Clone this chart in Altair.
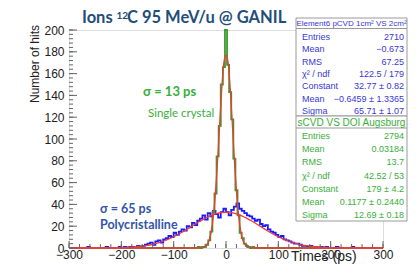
import altair as alt
import pandas as pd
import numpy as np

# ---------------- data ----------------
# polycrystalline (blue) histogram, 5 ps bins from -300 to 300
blue_counts = [0, 0, 0, 0, 0, 0, 0, 1, 0, 0, 0, 0, 0, 0, 1, 0, 0, 0, 0, 1,
               0, 1, 0, 1, 1, 0, 2, 1, 2, 3,
               4, 5, 3, 6, 7, 5, 8, 9, 11, 10,
               14, 12, 15, 17, 16, 20, 19, 23, 21, 25,
               27, 30, 26, 32, 29, 34, 31, 28, 33, 36,
               33, 30, 35, 38, 41, 36, 34, 32, 30, 29,
               27, 25, 26, 22, 20, 21, 17, 15, 14, 12,
               10, 11, 8, 7, 6, 5, 4, 4, 3, 2,
               2, 1, 2, 1, 1, 0, 1, 0, 1, 0,
               0, 0, 1, 0, 0, 0, 0, 0, 1, 0, 0, 0, 0, 0, 0, 0, 0, 0, 0, 0]
# single crystal (green) histogram, 4 ps bins centred -60 .. 60
green_counts = [0, 0, 1, 0, 1, 1, 3, 7, 15, 33, 50, 84, 112, 150, 166, 200,
                168, 143, 118, 82, 53, 30, 14, 9, 4, 2, 1, 0, 1, 0, 0]
# gaussian fit curves (red)
blue_fit = [0, 0, 0, 0, 0.01, 0.02, 0.04, 0.07, 0.12, 0.2, 0.32, 0.5, 0.77, 1.15,
            1.7, 2.4, 3.4, 4.6, 6.2, 8.1, 10.3, 12.8, 15.6, 18.6, 21.6, 24.5,
            27.2, 29.5, 31.3, 32.4, 32.8,
            32.4, 31.3, 29.5, 27.2, 24.5, 21.6, 18.6, 15.6, 12.8, 10.3, 8.1,
            6.2, 4.6, 3.4, 2.4, 1.7, 1.15, 0.77, 0.5, 0.32, 0.2, 0.12, 0.07,
            0.04, 0.02, 0.01, 0, 0, 0, 0]
green_fit = [0, 0.01, 0.04, 0.14, 0.4, 1.2, 3.2, 7.4, 15.7, 30.0, 51.7, 80.8,
             114.5, 146.8, 170.3, 177,
             170.3, 146.8, 114.5, 80.8, 51.7, 30.0, 15.7, 7.4, 3.2, 1.2, 0.4,
             0.14, 0.04, 0.01, 0]

x_labels = [-300, -200, -100, 0, 100, 200, 300]
y_labels = [0, 20, 40, 60, 80, 100, 120, 140, 160, 180, 200]

title_parts = ["Ions", "12", "C 95 MeV/u @ GANIL"]
x_title = "Times (ps)"
y_title = "Number of hits"

box1_header = "Element6 pCVD 1cm² VS 2cm²"
box1_labels = ["Entries", "Mean", "RMS", "χ² / ndf", "Constant", "Mean", "Sigma"]
box1_values = ["2710", "−0.673", "67.25", "122.5 / 179", "32.77 ± 0.82",
               "−0.6459 ± 1.3365", "65.71 ± 1.07"]
box2_header = "sCVD VS DOI Augsburg"
box2_labels = ["Entries", "Mean", "RMS", "χ² / ndf", "Constant", "Mean", "Sigma"]
box2_values = ["2794", "0.03184", "13.7", "42.52 / 53", "179 ± 4.2",
               "0.1177 ± 0.2440", "12.69 ± 0.18"]

ann_texts = ["σ = 13 ps", "Single crystal", "σ = 65 ps", "Polycristalline"]

# ---------------- layout / style ----------------
W, H = 314, 218
BLUE_TXT = "#3838d6"
GREEN_TXT = "#3aae3a"
FONT = "Liberation Sans"
HFONT = "Lato"

blue_x = np.arange(-297.5, 300, 5)
green_x = np.arange(-60, 61, 4)
df_blue = pd.DataFrame({"t": blue_x, "n": blue_counts})
df_green = pd.DataFrame({"t": [-300] + list(green_x) + [300],
                         "n": [0] + green_counts + [0]})
df_bfit = pd.DataFrame({"t": np.arange(-300, 301, 10), "n": blue_fit})
df_gfit = pd.DataFrame({"t": [-300] + list(np.arange(-60, 61, 4)) + [300],
                        "n": [0] + green_fit + [0]})

xs = alt.Scale(domain=[-300, 300], nice=False, zero=False)
ys = alt.Scale(domain=[0, 200], nice=False)
xaxis = alt.Axis(values=x_labels, title=None, ticks=False, domain=False, grid=False,
                 labelFontSize=12, labelFont=FONT, labelColor="#222",
                 labelPadding=1, labelFlush=False, labelOverlap=False)
yaxis = alt.Axis(values=y_labels, title=None, ticks=False, domain=False, grid=False,
                 labelFontSize=12, labelFont=FONT, labelColor="#222",
                 labelPadding=5, labelOverlap=False)
X = alt.X("t:Q", scale=xs, axis=xaxis)
Y = alt.Y("n:Q", scale=ys, axis=yaxis)

one = pd.DataFrame({"a": [0]})

blue_line = alt.Chart(df_blue).mark_line(interpolate="step", color="#1a1aff",
                                         strokeWidth=1.8).encode(x=X, y=Y)
green_line = alt.Chart(df_green).mark_line(interpolate="step", color="#3a9a2a",
                                           strokeWidth=1.8).encode(x=X, y=Y)
bfit = alt.Chart(df_bfit).mark_line(interpolate="monotone", color="#f03a3a",
                                    strokeWidth=1.3).encode(x=X, y=Y)
gfit = alt.Chart(df_gfit).mark_line(interpolate="monotone", color="#f03a3a",
                                    strokeWidth=1.3).encode(x=X, y=Y)

# inward ticks (ROOT style)
ymaj = pd.DataFrame({"n": list(range(0, 201, 20))})
ymin = pd.DataFrame({"n": list(range(0, 201, 4))})
xmaj = pd.DataFrame({"t": list(range(-300, 301, 100))})
xmin = pd.DataFrame({"t": list(range(-300, 301, 20))})
tick_c = "#666"
ytick_maj = alt.Chart(ymaj).mark_rule(color=tick_c).encode(y=Y, x=alt.value(0), x2=alt.value(8))
ytick_min = alt.Chart(ymin).mark_rule(color=tick_c).encode(y=Y, x=alt.value(0), x2=alt.value(4))
xtick_maj = alt.Chart(xmaj).mark_rule(color=tick_c).encode(x=X, y=alt.value(H), y2=alt.value(H - 7))
xtick_min = alt.Chart(xmin).mark_rule(color=tick_c).encode(x=X, y=alt.value(H), y2=alt.value(H - 4))


def txt(s, x, y, size, color, weight="normal", font=HFONT, align="left",
        baseline="alphabetic", angle=0):
    kw = dict(text=s, font=font, fontSize=size, color=color, fontWeight=weight,
              align=align, baseline=baseline)
    if angle:
        kw["angle"] = angle
    return alt.Chart(one).mark_text(**kw).encode(x=alt.value(x), y=alt.value(y))


TC = "#1f4e79"
title = [
    txt(title_parts[0], 13, -7.5, 16.5, TC, "bold"),
    txt(title_parts[1], 47.5, -11, 10, TC, "bold"),
    txt(title_parts[2], 58, -7.5, 16.5, TC, "bold"),
]
ytitle = txt(y_title, -34, 34, 12, "#222", font=FONT, align="center",
             baseline="middle", angle=270)
xtitle = txt(x_title, 222, 231, 14, "#222", font=FONT)

# annotations
ann_layers = [
    txt(ann_texts[0], 74, 66, 13, GREEN_TXT, "bold"),
    txt(ann_texts[1], 79, 87, 11.5, GREEN_TXT),
    txt(ann_texts[2], 31, 183, 12.5, "#3355a8", "bold"),
    txt(ann_texts[3], 31, 199, 12.5, "#3355a8", "bold"),
]

# stats boxes
BX1, BX2 = 227, 338


def stats_box(top, bottom, sep, header, hsize, labels, values, rows_y, color, header_y):
    rect = alt.Chart(one).mark_rect(fill="white", stroke="#9a9a9a", strokeWidth=1).encode(
        x=alt.value(BX1), x2=alt.value(BX2), y=alt.value(top), y2=alt.value(bottom))
    sepl = alt.Chart(one).mark_rule(color="#9a9a9a").encode(
        x=alt.value(BX1), x2=alt.value(BX2), y=alt.value(sep))
    head = txt(header, (BX1 + BX2) / 2, header_y, hsize, color, font=FONT,
               align="center", baseline="middle")
    d = pd.DataFrame({"lab": labels, "val": values, "py": rows_y})
    lab = alt.Chart(d).mark_text(font=FONT, fontSize=9, color=color, align="left",
                                 baseline="middle").encode(
        text="lab:N", x=alt.value(BX1 + 6), y=alt.Y("py:Q", scale=None, axis=None))
    val = alt.Chart(d).mark_text(font=FONT, fontSize=9, color=color, align="right",
                                 baseline="middle").encode(
        text="val:N", x=alt.value(BX2 - 3), y=alt.Y("py:Q", scale=None, axis=None))
    return [rect, sepl, head, lab, val]


box1 = stats_box(-12, 86, -1.5, box1_header, 8, box1_labels, box1_values,
                 [7, 19.3, 31.6, 43.9, 56.2, 68.5, 80.8], BLUE_TXT, -6.5)
box2 = stats_box(86, 191, 98, box2_header, 10, box2_labels, box2_values,
                 [106, 119, 132, 145.5, 159, 172, 185], GREEN_TXT, 92.5)

chart = alt.layer(
    blue_line, green_line, bfit, gfit,
    ytick_maj, ytick_min, xtick_maj, xtick_min,
    *ann_layers, *box1, *box2, *title, ytitle, xtitle,
).properties(
    width=W, height=H,
    autosize=alt.AutoSizeParams(type="none"),
    padding={"left": 61, "top": 22, "right": 25, "bottom": 16},
).configure_view(stroke="#8a8a8a", strokeWidth=1).configure(background="white")

chart.save("out.html", embed_options={"renderer": "svg", "actions": False})
